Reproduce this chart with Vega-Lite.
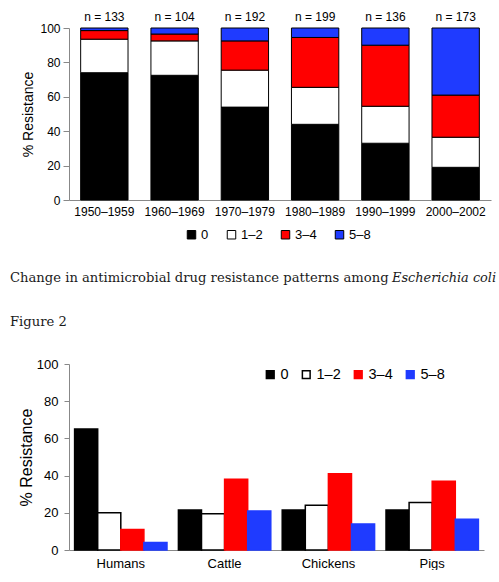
{
  "$schema": "https://vega.github.io/schema/vega-lite/v6.json",
  "background": "white",
  "padding": {"left": 10, "top": 11, "right": 0, "bottom": 0},
  "config": {
    "view": {"stroke": null},
    "font": "Liberation Sans",
    "axis": {"grid": false, "domainColor": "#888", "tickColor": "#888", "labelColor": "#000", "titleColor": "#000", "labelFont": "Liberation Sans", "titleFont": "Liberation Sans", "titleFontWeight": "normal", "labelOverlap": false},
    "legend": {"labelFont": "Liberation Sans", "labelColor": "#000", "padding": 0}
  },
  "datasets": {
    "fig1": [
      {"period": "1950–1959", "cat": "0", "pct": 74},
      {"period": "1950–1959", "cat": "1–2", "pct": 19.5},
      {"period": "1950–1959", "cat": "3–4", "pct": 5},
      {"period": "1950–1959", "cat": "5–8", "pct": 1.5},
      {"period": "1960–1969", "cat": "0", "pct": 72.5},
      {"period": "1960–1969", "cat": "1–2", "pct": 20},
      {"period": "1960–1969", "cat": "3–4", "pct": 4},
      {"period": "1960–1969", "cat": "5–8", "pct": 3.5},
      {"period": "1970–1979", "cat": "0", "pct": 54},
      {"period": "1970–1979", "cat": "1–2", "pct": 21.5},
      {"period": "1970–1979", "cat": "3–4", "pct": 17},
      {"period": "1970–1979", "cat": "5–8", "pct": 7.5},
      {"period": "1980–1989", "cat": "0", "pct": 44},
      {"period": "1980–1989", "cat": "1–2", "pct": 21.5},
      {"period": "1980–1989", "cat": "3–4", "pct": 29},
      {"period": "1980–1989", "cat": "5–8", "pct": 5.5},
      {"period": "1990–1999", "cat": "0", "pct": 33},
      {"period": "1990–1999", "cat": "1–2", "pct": 21.5},
      {"period": "1990–1999", "cat": "3–4", "pct": 35.5},
      {"period": "1990–1999", "cat": "5–8", "pct": 10},
      {"period": "2000–2002", "cat": "0", "pct": 19},
      {"period": "2000–2002", "cat": "1–2", "pct": 17.5},
      {"period": "2000–2002", "cat": "3–4", "pct": 24.5},
      {"period": "2000–2002", "cat": "5–8", "pct": 39}
    ],
    "fig1n": [
      {"period": "1950–1959", "label": "n = 133"},
      {"period": "1960–1969", "label": "n = 104"},
      {"period": "1970–1979", "label": "n = 192"},
      {"period": "1980–1989", "label": "n = 199"},
      {"period": "1990–1999", "label": "n = 136"},
      {"period": "2000–2002", "label": "n = 173"}
    ],
    "fig2": [
      {"host": "Humans", "cat": "0", "pct": 65},
      {"host": "Humans", "cat": "1–2", "pct": 20},
      {"host": "Humans", "cat": "3–4", "pct": 11},
      {"host": "Humans", "cat": "5–8", "pct": 4},
      {"host": "Cattle", "cat": "0", "pct": 21.5},
      {"host": "Cattle", "cat": "1–2", "pct": 19.5},
      {"host": "Cattle", "cat": "3–4", "pct": 38},
      {"host": "Cattle", "cat": "5–8", "pct": 21},
      {"host": "Chickens", "cat": "0", "pct": 21.5},
      {"host": "Chickens", "cat": "1–2", "pct": 24},
      {"host": "Chickens", "cat": "3–4", "pct": 41},
      {"host": "Chickens", "cat": "5–8", "pct": 14},
      {"host": "Pigs", "cat": "0", "pct": 21.5},
      {"host": "Pigs", "cat": "1–2", "pct": 25.5},
      {"host": "Pigs", "cat": "3–4", "pct": 37},
      {"host": "Pigs", "cat": "5–8", "pct": 16.5}
    ]
  },
  "spacing": 28,
  "resolve": {"scale": {"color": "independent", "stroke": "independent"}, "legend": {"color": "independent", "stroke": "independent"}},
  "vconcat": [
    {
      "width": 422,
      "height": 172,
      "layer": [
        {
          "data": {"name": "fig1"},
          "mark": {"type": "bar", "stroke": "#000", "strokeWidth": 1},
          "encoding": {
            "x": {"field": "period", "type": "nominal", "sort": null, "scale": {"paddingInner": 0.326, "paddingOuter": 0.166}, "axis": {"title": null, "labelAngle": 0, "labelFontSize": 12, "labelPadding": 6, "ticks": false, "tickSize": 0}},
            "y": {"field": "pct", "type": "quantitative", "stack": "zero", "scale": {"domain": [0, 100]}, "axis": {"title": "% Resistance", "values": [0, 20, 40, 60, 80, 100], "labelOverlap": false, "labelFontSize": 12, "titleFontSize": 14, "tickSize": 6, "labelPadding": 3, "titlePadding": 4}},
            "order": {"field": "cat", "sort": "ascending"},
            "color": {"field": "cat", "type": "nominal", "scale": {"domain": ["0", "1–2", "3–4", "5–8"], "range": ["#000000", "#ffffff", "#ff0000", "#1f3bff"]}, "legend": {"title": null, "orient": "none", "legendX": 116, "legendY": 200, "direction": "horizontal", "symbolType": "square", "symbolSize": 72, "symbolStrokeColor": "#000", "symbolStrokeWidth": 1, "labelFontSize": 13, "labelOffset": 3, "columnPadding": 16}}
          }
        },
        {
          "data": {"name": "fig1n"},
          "mark": {"type": "text", "baseline": "bottom", "dy": -4, "fontSize": 12, "color": "#000"},
          "encoding": {
            "x": {"field": "period", "type": "nominal", "sort": null},
            "y": {"datum": 100, "type": "quantitative", "axis": {"title": "% Resistance", "values": [0, 20, 40, 60, 80, 100], "labelOverlap": false, "labelFontSize": 12, "titleFontSize": 14, "tickSize": 6, "labelPadding": 3, "titlePadding": 4}},
            "text": {"field": "label"}
          }
        }
      ]
    },
    {
      "spacing": 0,
      "hconcat": [
        {
          "data": {"values": [{"t": ""}]},
          "width": 323,
          "height": 1,
          "mark": {"type": "point", "opacity": 0, "size": 0},
          "encoding": {},
          "title": {"text": "Change in antimicrobial drug resistance patterns among", "anchor": "start", "frame": "group", "font": "DejaVu Serif", "fontSize": 13.15, "fontWeight": "normal", "color": "#1a1a1a", "dx": -59, "offset": 0}
        },
        {
          "data": {"values": [{"t": ""}]},
          "width": 100,
          "height": 1,
          "mark": {"type": "point", "opacity": 0, "size": 0},
          "encoding": {},
          "title": {"text": "Escherichia coli", "anchor": "start", "frame": "group", "font": "DejaVu Serif", "fontSize": 12.9, "fontStyle": "italic", "fontWeight": "normal", "color": "#1a1a1a", "dx": -59, "offset": 0}
        }
      ]
    },
    {
      "data": {"name": "fig2"},
      "width": 415,
      "height": 186,
      "title": {"text": "Figure 2", "anchor": "start", "frame": "group", "font": "DejaVu Serif", "fontSize": 13.15, "fontWeight": "normal", "color": "#1a1a1a", "dx": -59, "offset": 29},
      "mark": {"type": "bar", "strokeWidth": 1.5},
      "encoding": {
        "x": {"field": "host", "type": "nominal", "sort": null, "scale": {"paddingInner": 0.11, "paddingOuter": 0.054}, "axis": {"title": null, "labelAngle": 0, "labelFontSize": 13, "labelPadding": 7, "ticks": false, "tickSize": 0}},
        "xOffset": {"field": "cat", "type": "nominal", "sort": null, "scale": {"paddingInner": 0, "paddingOuter": 0}},
        "y": {"field": "pct", "type": "quantitative", "scale": {"domain": [0, 100]}, "axis": {"title": "% Resistance", "values": [0, 20, 40, 60, 80, 100], "labelFontSize": 13, "titleFontSize": 16, "tickSize": 5, "labelPadding": 6, "titlePadding": 2}},
        "color": {"field": "cat", "type": "nominal", "scale": {"domain": ["0", "1–2", "3–4", "5–8"], "range": ["#000000", "#ffffff", "#ff0000", "#1f3bff"]}, "legend": {"title": null, "orient": "none", "legendX": 194, "legendY": 3, "direction": "horizontal", "symbolType": "square", "symbolSize": 60, "symbolStrokeWidth": 1.5, "labelFontSize": 14.5, "labelOffset": 3, "columnPadding": 10}},
        "stroke": {"field": "cat", "type": "nominal", "scale": {"domain": ["0", "1–2", "3–4", "5–8"], "range": ["#000000", "#000000", "#ff0000", "#1f3bff"]}}
      }
    }
  ]
}
